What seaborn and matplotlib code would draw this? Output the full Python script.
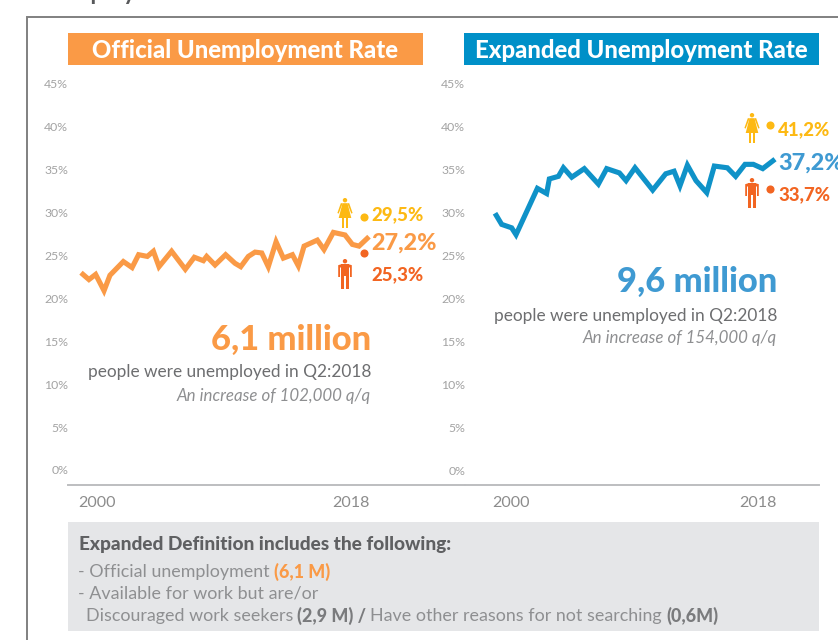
import matplotlib
matplotlib.use("Agg")
import matplotlib.pyplot as plt
from matplotlib.patches import Circle, Polygon, Rectangle
from matplotlib.transforms import ScaledTranslation
import seaborn as sns

sns.set_theme(style="white")
plt.rcParams["font.family"] = ["Lato", "DejaVu Sans"]

# Unemployment rate series, percent, by year
official_years = [2000.0, 2000.51, 2000.94, 2001.48, 2001.86, 2002.72, 2003.28, 2003.70, 2004.26,
                  2004.65, 2005.01, 2005.82, 2006.70, 2007.28, 2007.86, 2008.07, 2008.61, 2009.29,
                  2009.89, 2010.26, 2010.75, 2011.18, 2011.61, 2012.03, 2012.53, 2013.00, 2013.58,
                  2013.96, 2014.33, 2015.18, 2015.61, 2016.21, 2016.96, 2017.43, 2017.86, 2018.5]
official_rate = [23.0, 22.2, 22.8, 20.9, 22.7, 24.3, 23.6, 25.1, 24.9, 25.5, 23.7, 25.5, 23.4, 24.8,
                 24.4, 24.9, 23.9, 25.1, 24.1, 23.7, 24.9, 25.4, 25.3, 23.7, 26.6, 24.7, 25.1, 23.8,
                 26.1, 26.8, 25.7, 27.7, 27.4, 26.3, 26.1, 27.2]
expanded_years = [2000.0, 2000.44, 2001.10, 2001.39, 2002.80, 2003.41, 2003.59, 2004.19, 2004.52,
                  2005.07, 2005.90, 2006.83, 2007.38, 2008.22, 2008.66, 2009.25, 2010.42, 2011.28,
                  2011.83, 2012.22, 2012.71, 2013.28, 2013.99, 2014.49, 2015.35, 2015.90, 2016.52,
                  2017.07, 2017.69, 2018.5]
expanded_rate = [30.9, 29.6, 29.2, 28.4, 33.8, 33.2, 34.9, 35.2, 36.2, 35.1, 36.1, 34.3, 36.1, 35.6,
                 34.7, 36.2, 33.6, 35.5, 35.8, 34.1, 36.5, 34.7, 33.3, 36.4, 36.2, 35.2, 36.6, 36.6,
                 36.1, 37.2]

official_female, official_male = 29.5, 25.3
expanded_female, expanded_male = 41.2, 33.7
gender_year = 2018.2

rate_ticks = [0, 5, 10, 15, 20, 25, 30, 35, 40, 45]
year_ticks = [2000, 2018.5]
year_labels = ["2000", "2018"]

ORANGE = "#FA9A46"
BLUE_FILL = "#0090C8"
BLUE_TEXT = "#3F9AD2"
FEMALE = "#FDB913"
MALE = "#F26522"
TICK_GREY = "#A3A3A3"
YEAR_GREY = "#8C8C8C"
BODY = "#6D6E70"
BODY_LIGHT = "#8E8F91"
HEAVY = 900

W, H = 838, 640
PX_PER_PCT = 8.578
fig = plt.figure(figsize=(W / 100, H / 100), dpi=100, facecolor="white")


def rate_axes(left, right, start_px, end_px, zero_px, label_shift):
    """Axes spanning the given pixels, with 2000-2018.5 between start_px and end_px."""
    bottom_px, top_px = 484.7, 70
    ax = fig.add_axes([left / W, 1 - bottom_px / H, (right - left) / W, (bottom_px - top_px) / H])
    per_year = (end_px - start_px) / 18.5
    ax.set_xlim(2000 - (start_px - left) / per_year, 2000 + (right - start_px) / per_year)
    ax.set_ylim((zero_px - bottom_px) / PX_PER_PCT, (zero_px - top_px) / PX_PER_PCT)
    ax.patch.set_alpha(0)
    sns.despine(ax=ax, left=True)
    ax.spines["bottom"].set_color("#BDBEC0")
    ax.spines["bottom"].set_linewidth(1.4)
    ax.set_xticks(year_ticks, year_labels, fontsize=11.6, color=YEAR_GREY)
    ax.get_xticklabels()[0].set_ha("left")
    ax.get_xticklabels()[1].set_ha("right")
    ax.tick_params(axis="x", length=0, pad=8)
    for tick_label, dx in zip(ax.get_xticklabels(), label_shift):
        tick_label.set_transform(tick_label.get_transform()
                                 + ScaledTranslation(dx / 100, 0, fig.dpi_scale_trans))
    ax.set_yticks([])
    ax.grid(False)
    return ax


def draw_series(ax, years, rate, colour, female, male):
    sns.lineplot(x=years, y=rate, ax=ax, color=colour, linewidth=3.7, errorbar=None, sort=False,
                 solid_joinstyle="miter", solid_capstyle="butt", legend=False)
    sns.scatterplot(x=[gender_year], y=[female], ax=ax, color=FEMALE, s=34, linewidth=0, legend=False)
    sns.scatterplot(x=[gender_year], y=[male], ax=ax, color=MALE, s=34, linewidth=0, legend=False)
    ax.set_xlabel("")
    ax.set_ylabel("")


ax_official = rate_axes(68, 465, 81, 369, 470, (-3, 1))
draw_series(ax_official, official_years, official_rate, ORANGE, official_female, official_male)
ax_official.set_yticks(rate_ticks, [f"{t}%" for t in rate_ticks])
ax_official.tick_params(axis="y", length=0, pad=0, labelsize=8.8, labelcolor=TICK_GREY)

# The expanded series sits one point lower against its printed scale
ax_expanded = rate_axes(465, 819, 495, 775, 478.3, (-3, 2))
draw_series(ax_expanded, expanded_years, expanded_rate, "#0F92C8", expanded_female, expanded_male)
scale = ax_expanded.secondary_yaxis("left", functions=(lambda v: v - 0.967, lambda v: v + 0.967))
scale.set_yticks(rate_ticks, [f"{t}%" for t in rate_ticks])
scale.tick_params(axis="y", length=0, pad=0, labelsize=8.8, labelcolor=TICK_GREY)
scale.spines["left"].set_visible(False)

# Overlay in pixel units for frame, banners, callouts and the notes panel
ov = fig.add_axes([0, 0, 1, 1], zorder=5)
ov.set_xlim(0, W)
ov.set_ylim(H, 0)
ov.axis("off")
ov.patch.set_alpha(0)

ov.plot([27, 27, W + 2], [H + 2, 16.8, 16.8], color="#808080", lw=1.4, solid_joinstyle="miter")
ov.add_patch(Rectangle((68, 33), 355, 32, color=ORANGE, lw=0))
ov.add_patch(Rectangle((464, 33), 355, 32, color=BLUE_FILL, lw=0))
ov.add_patch(Rectangle((68, 522), 751, 109, color="#E5E6E8", lw=0))


def label(x, y, text, size, colour, ha="left", **kw):
    return ov.text(x, y, text, fontsize=size, color=colour, ha=ha, va="center_baseline", **kw)


ov.text(27, 0.5, "Unemployment Rates", fontsize=17, fontweight="bold", color="#58595B", va="baseline")
label(245, 49, "Official Unemployment Rate", 17.2, "white", ha="center", fontweight=HEAVY)
label(641, 49, "Expanded Unemployment Rate", 17.2, "white", ha="center", fontweight=HEAVY)

label(371, 337, "6,1 million", 24.8, ORANGE, ha="right", fontweight=HEAVY)
label(371, 371, "people were unemployed in Q2:2018", 12.4, BODY, ha="right")
label(371, 394, "An increase of 102,000 q/q", 12.2, BODY_LIGHT, ha="right", style="italic")
label(777, 279, "9,6 million", 24.8, BLUE_TEXT, ha="right", fontweight=HEAVY)
label(777, 314, "people were unemployed in Q2:2018", 12.4, BODY, ha="right")
label(777, 337, "An increase of 154,000 q/q", 12.2, BODY_LIGHT, ha="right", style="italic")

label(371, 213, "29,5%", 13.4, FEMALE, fontweight=HEAVY)
label(371, 241, "27,2%", 16.8, ORANGE, fontweight=HEAVY)
label(371, 273, "25,3%", 13.4, MALE, fontweight=HEAVY)
label(778, 128, "41,2%", 13.4, FEMALE, fontweight=HEAVY)
label(778, 161, "37,2%", 16.8, BLUE_TEXT, fontweight=HEAVY)
label(778, 193, "33,7%", 13.4, MALE, fontweight=HEAVY)


def person(cx, top, height, colour, female):
    """Pictogram of a standing figure, scaled to height in pixels."""
    s = height / 30
    ov.add_patch(Circle((cx, top + 2.2 * s), 2.2 * s, color=colour, lw=0))
    if female:
        dress = [(-2.5, 5.2), (2.5, 5.2), (6.3, 20), (-6.3, 20)]
        ov.add_patch(Polygon([(cx + x * s, top + y * s) for x, y in dress], color=colour, lw=0))
        for side in (-1, 1):
            arm = [(2.3, 5.2), (4.2, 5.2), (7.6, 15), (6.3, 15.6)]
            ov.add_patch(Polygon([(cx + side * x * s, top + y * s) for x, y in arm], color=colour, lw=0))
            leg = [(0.7, 20), (2.6, 20), (2.6, 30), (0.7, 30)]
            ov.add_patch(Polygon([(cx + side * x * s, top + y * s) for x, y in leg], color=colour, lw=0))
    else:
        torso = [(-3.6, 5.2), (3.6, 5.2), (3.6, 17), (-3.6, 17)]
        ov.add_patch(Polygon([(cx + x * s, top + y * s) for x, y in torso], color=colour, lw=0))
        for side in (-1, 1):
            arm = [(3.6, 5.2), (6.8, 6.2), (6.8, 18), (5.0, 18), (5.0, 8.5), (3.6, 8.5)]
            ov.add_patch(Polygon([(cx + side * x * s, top + y * s) for x, y in arm], color=colour, lw=0))
            leg = [(0.55, 16), (3.6, 16), (3.6, 30), (0.55, 30)]
            ov.add_patch(Polygon([(cx + side * x * s, top + y * s) for x, y in leg], color=colour, lw=0))


person(345, 198, 30, FEMALE, True)
person(345, 259, 30, MALE, False)
person(752, 113, 30, FEMALE, True)
person(752, 178, 30, MALE, False)


def run_of_text(x, y, parts, size):
    """Set differently styled pieces one after another on the same line."""
    renderer = fig.canvas.get_renderer()
    inverse = ov.transData.inverted()
    for text, colour, weight, gap in parts:
        t = label(x, y, text, size, colour, fontweight=weight)
        box = t.get_window_extent(renderer)
        x = inverse.transform((box.x1, 0))[0] + gap


label(79, 543, "Expanded Definition includes the following:", 13.65, "#5F6062", fontweight=HEAVY)
run_of_text(78, 570, [("- Official unemployment", BODY_LIGHT, "normal", 4),
                      ("(6,1 M)", ORANGE, HEAVY, 0)], 12.9)
label(78, 592, "- Available for work but are/or", 12.9, BODY_LIGHT)
run_of_text(86, 614, [("Discouraged work seekers", BODY_LIGHT, "normal", 4),
                      ("(2,9 M) /", "#7A7B7D", HEAVY, 4),
                      ("Have other reasons for not searching", BODY_LIGHT, "normal", 4),
                      ("(0,6M)", "#7A7B7D", HEAVY, 0)], 12.9)

fig.savefig("out.png", dpi=100)
